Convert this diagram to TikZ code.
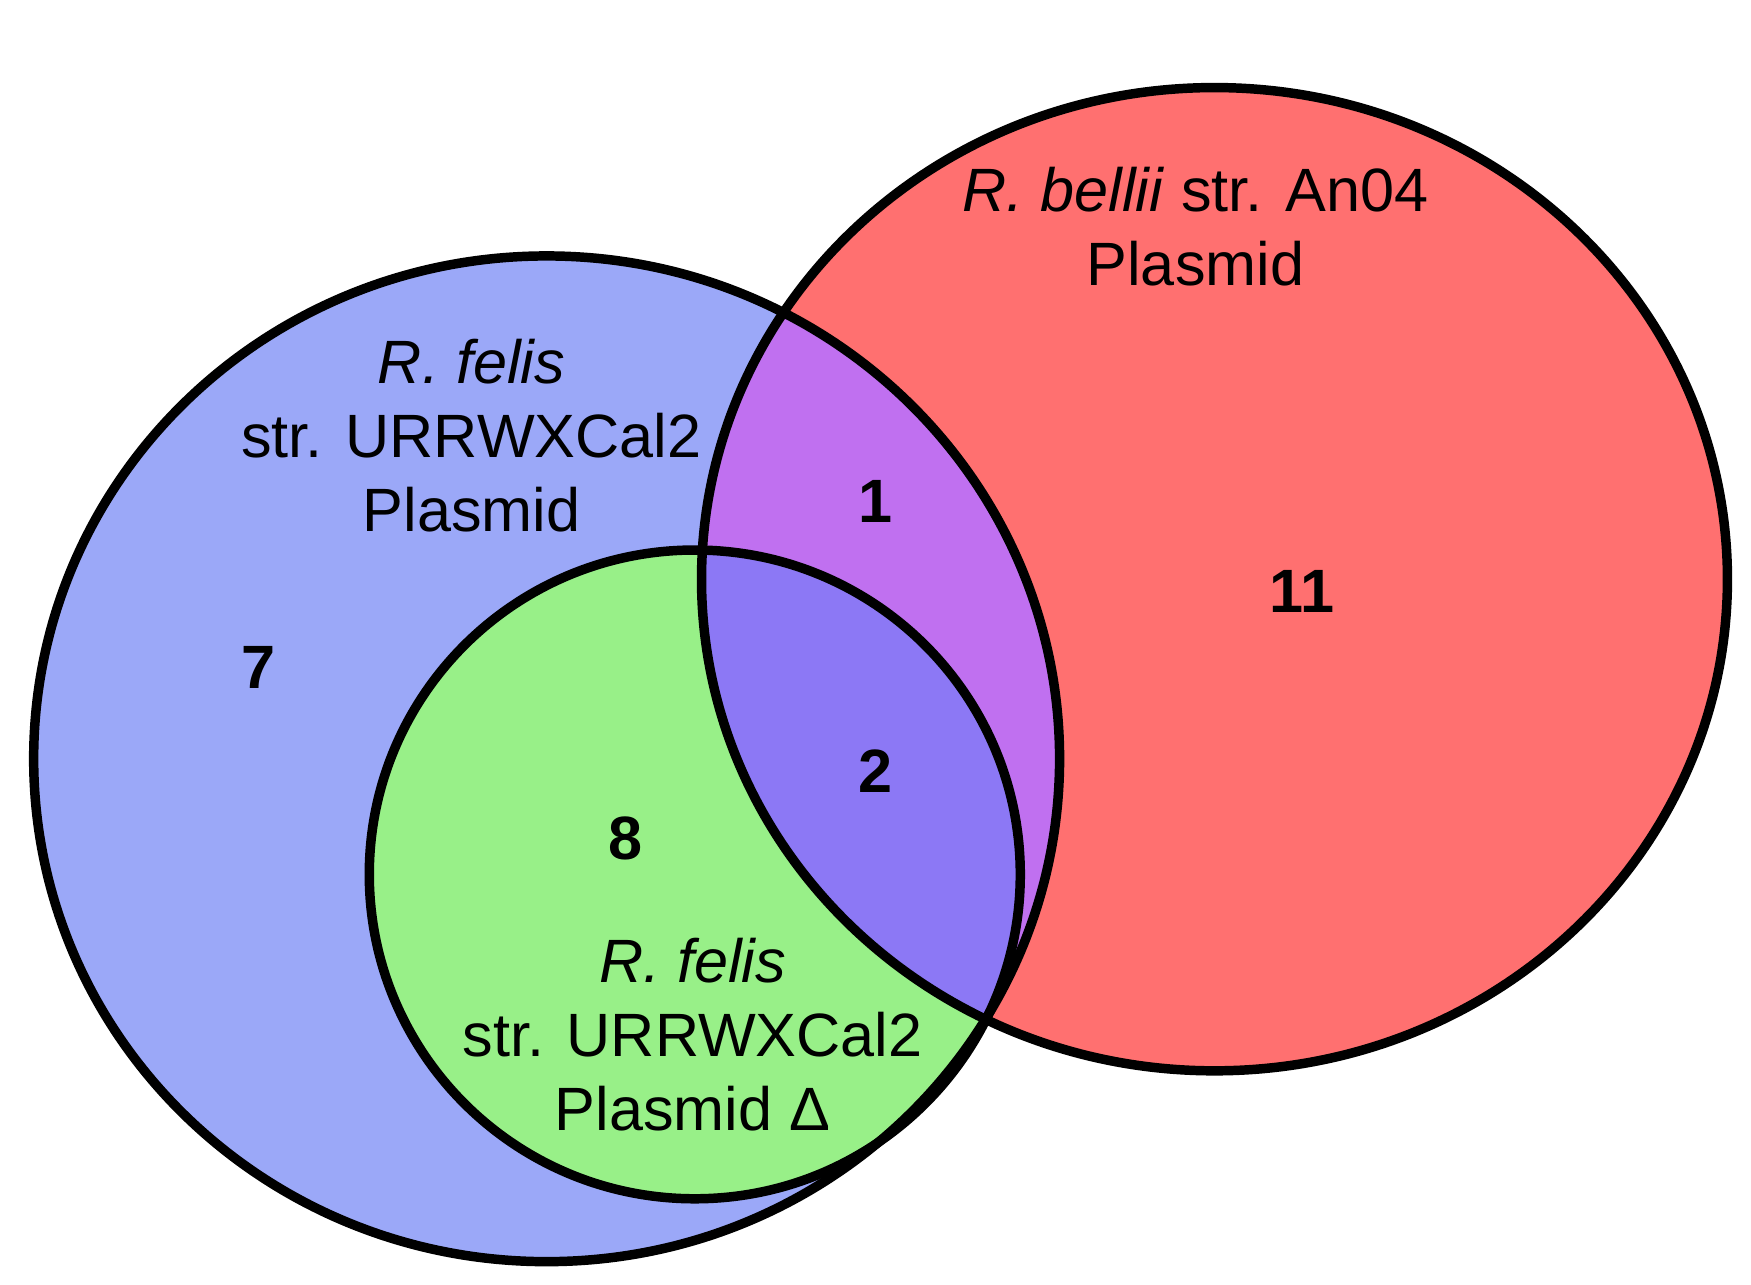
\documentclass[tikz,border=0pt]{standalone}
\usepackage{fontspec}
\setmainfont{Liberation Sans}
\begin{document}
\begin{tikzpicture}[x=0.01cm,y=-0.01cm,
  outl/.style={draw=black,line width=2.4pt},
  lab/.style={align=center,font=\fontsize{15.5}{18.7}\selectfont},
  num/.style={font=\fontsize{15.5}{18.7}\selectfont\bfseries}]
\definecolor{cblue}{HTML}{9BA8F8}
\definecolor{cred}{HTML}{FF7070}
\definecolor{cgreen}{HTML}{98F088}
\definecolor{cpurple}{HTML}{C070F0}
\definecolor{cviolet}{HTML}{8C78F5}
\useasboundingbox (0,0) rectangle (1560,1144);
\def\blue{(487,676) ellipse [x radius=457,y radius=448]}
\def\red{(1082,516) ellipse [x radius=457,y radius=438]}
\def\green{(619,779) ellipse [x radius=290,y radius=289]}
\fill[cblue] \blue;
\fill[cred] \red;
\begin{scope}\clip \red; \fill[cpurple] \blue; \end{scope}
\fill[cgreen] \green;
\begin{scope}\clip \red; \fill[cviolet] \green; \end{scope}
\draw[outl] \blue;
\draw[outl] \red;
\draw[outl] \green;
\node[lab] (lb) at (420,388) {\textit{R. felis}\\str. URRWXCal2\\Plasmid};
\node[lab] (lr) at (1065,202) {\textit{R. bellii} str. An04\\Plasmid};
\node[lab] (lg) at (617,922) {\textit{R. felis}\\str. URRWXCal2\\Plasmid Δ};
\node[num] (n1) at (780,447) {1};
\node[num] (n11) at (1160,527) {11};
\node[num] (n7) at (230,595) {7};
\node[num] (n2) at (780,687) {2};
\node[num] (n8) at (557,747) {8};
\end{tikzpicture}
\end{document}
